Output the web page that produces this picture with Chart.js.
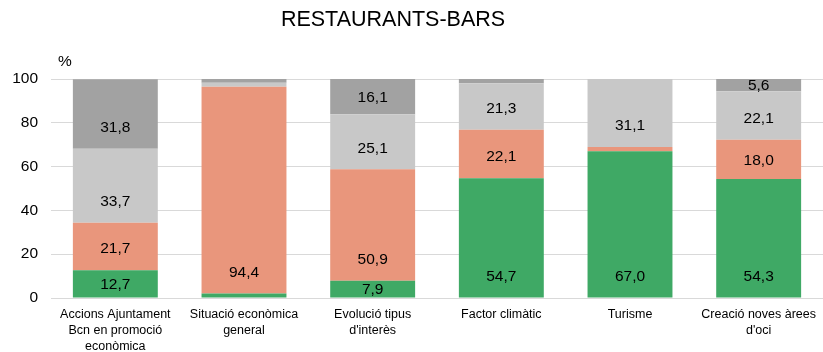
<!DOCTYPE html>
<html>
<head>
<meta charset="utf-8">
<script src="https://cdn.jsdelivr.net/npm/chart.js@4/dist/chart.umd.min.js"></script>
<style>
  html, body { margin: 0; padding: 0; background: #fff; }
  #wrap { width: 823px; height: 352px; }
</style>
</head>
<body>
<div id="wrap"><canvas id="chart"></canvas></div>
<script>
// categories and stacked shares (%)
const categories = [
    ['Accions Ajuntament', 'Bcn en promoció', 'econòmica'],
    ['Situació econòmica', 'general'],
    ['Evolució tipus', "d'interès"],
    'Factor climàtic',
    'Turisme',
    ['Creació noves àrees', "d'oci"]
];
const serieGreen = [12.7, 2.1, 7.9, 54.7, 67.0, 54.3];
const serieSalmon = [21.7, 94.4, 50.9, 22.1, 1.9, 18.0];
const serieLight = [33.7, 1.8, 25.1, 21.3, 31.1, 22.1];
const serieDark = [31.8, 1.7, 16.1, 1.9, 0, 5.6];
const yTicks = [0, 20, 40, 60, 80, 100];

const FONT = '"Liberation Sans", Arial, sans-serif';

// title, unit and values inside segments (placed near the segment base, like Excel "inside base")
const valueLabels = {
    id: 'valueLabels',
    afterDatasetsDraw(chart) {
        const ctx = chart.ctx;
        ctx.save();
        ctx.fillStyle = '#000';
        ctx.textBaseline = 'middle';

        ctx.font = '21.5px ' + FONT;
        ctx.textAlign = 'center';
        ctx.fillText('RESTAURANTS-BARS', 393, 20);

        ctx.font = '15.5px ' + FONT;
        chart.data.datasets.forEach((ds, i) => {
            chart.getDatasetMeta(i).data.forEach((bar, j) => {
                const v = ds.data[j];
                if (v < 4) return;
                const h = bar.base - bar.y;
                const y = bar.base - Math.min(h / 2, 22);
                ctx.fillText(v.toFixed(1).replace('.', ','), bar.x, y + 1);
            });
        });

        ctx.textAlign = 'left';
        ctx.fillText('%', chart.chartArea.left + 7, chart.chartArea.top - 17);
        ctx.restore();
    }
};

new Chart(document.getElementById('chart'), {
    type: 'bar',
    data: {
        labels: categories,
        datasets: [
            { label: 'a', data: serieGreen, backgroundColor: '#3fa965' },
            { label: 'b', data: serieSalmon, backgroundColor: '#e9967c' },
            { label: 'c', data: serieLight, backgroundColor: '#c8c8c8' },
            { label: 'd', data: serieDark, backgroundColor: '#a2a2a2' }
        ]
    },
    options: {
        responsive: true,
        maintainAspectRatio: false,
        animation: false,
        layout: { padding: { top: 79, right: 0, left: 0, bottom: 0 } },
        datasets: { bar: { categoryPercentage: 0.66, barPercentage: 1 } },
        plugins: {
            legend: { display: false },
            tooltip: { enabled: false },
            title: { display: false }
        },
        scales: {
            x: {
                stacked: true,
                grid: { display: false, drawTicks: false },
                border: { color: '#d9d9d9' },
                afterFit(axis) {
                    axis.height = 54;
                    axis.paddingLeft = 0;
                    axis.paddingRight = 0;
                },
                ticks: {
                    color: '#000',
                    maxRotation: 0,
                    autoSkip: false,
                    padding: 8,
                    font: { family: FONT, size: 12.5, lineHeight: 1.3 }
                }
            },
            y: {
                stacked: true,
                min: 0,
                max: 100,
                afterBuildTicks(axis) { axis.ticks = yTicks.map(v => ({ value: v })); },
                afterFit(axis) {
                    axis.width = 51;
                    axis.paddingTop = 0;
                    axis.paddingBottom = 0;
                },
                grid: { color: '#d9d9d9', drawTicks: false },
                border: { display: false },
                ticks: {
                    color: '#000',
                    padding: 13,
                    font: { family: FONT, size: 15.5 }
                }
            }
        }
    },
    plugins: [valueLabels]
});
</script>
</body>
</html>
